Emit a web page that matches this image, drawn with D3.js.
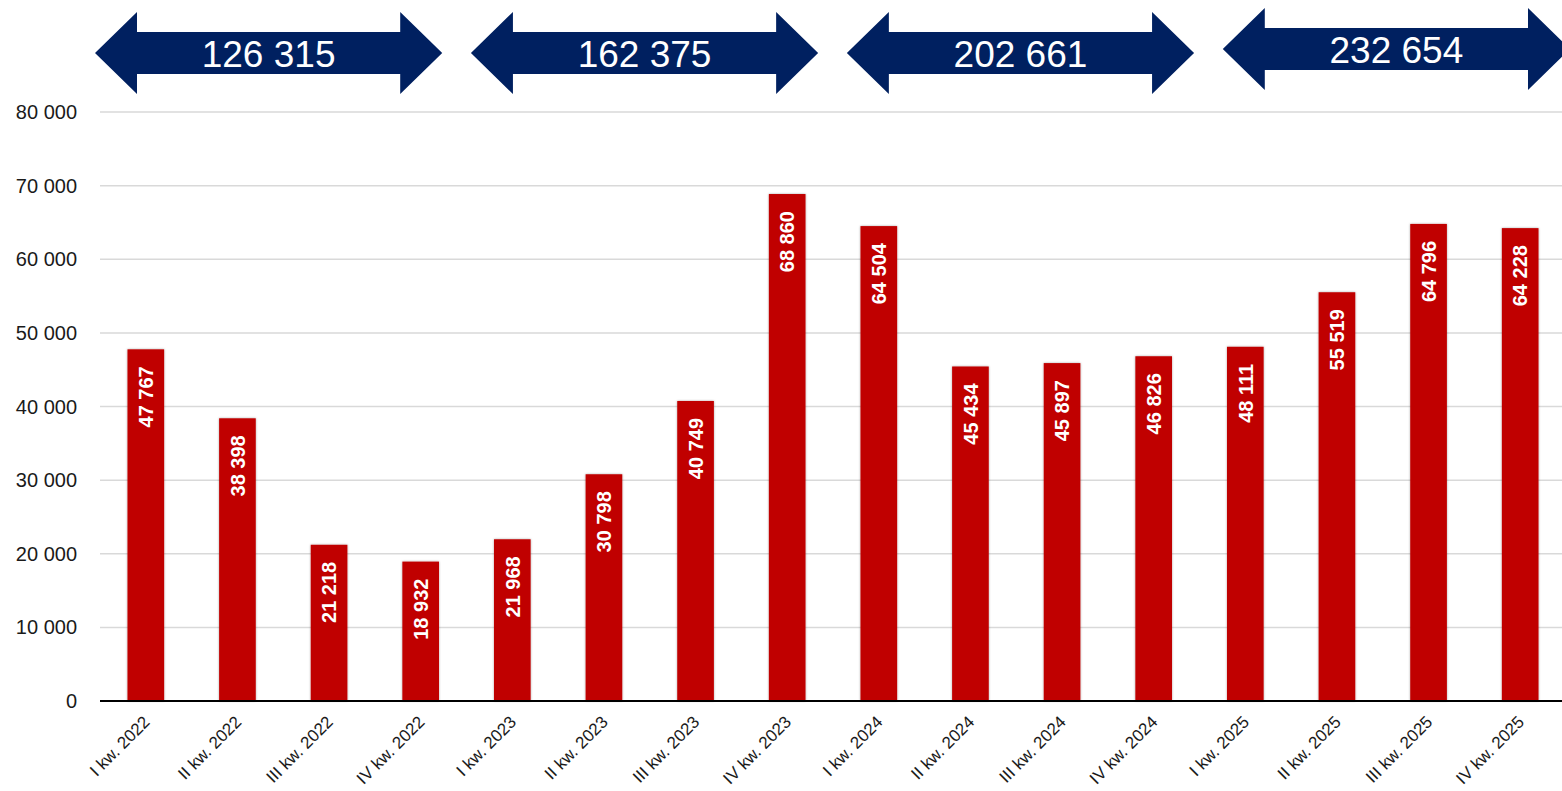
<!DOCTYPE html>
<html>
<head>
<meta charset="utf-8">
<script src="https://cdn.jsdelivr.net/npm/d3@7"></script>
<style>
  body { margin: 0; background: #fff; }
  svg { display: block; font-family: "Liberation Sans", Arial, sans-serif; }
</style>
</head>
<body>
<svg id="chart"></svg>
<script>
const WIDTH = 1562
const HEIGHT = 791

const quarters = [
  "I kw. 2022", "II kw. 2022", "III kw. 2022", "IV kw. 2022",
  "I kw. 2023", "II kw. 2023", "III kw. 2023", "IV kw. 2023",
  "I kw. 2024", "II kw. 2024", "III kw. 2024", "IV kw. 2024",
  "I kw. 2025", "II kw. 2025", "III kw. 2025", "IV kw. 2025"
]
const values = [
  47767, 38398, 21218, 18932,
  21968, 30798, 40749, 68860,
  64504, 45434, 45897, 46826,
  48111, 55519, 64796, 64228
]
const years = ["2022", "2023", "2024", "2025"]
const yearTotals = [126315, 162375, 202661, 232654]
const yTicks = [0, 10000, 20000, 30000, 40000, 50000, 60000, 70000, 80000]

const fmt = v => d3.format(",")(v).replace(/,/g, " ")

let svg = d3.select("#chart")
  .attr("width", WIDTH)
  .attr("height", HEIGHT)

let defs = svg.append("defs")
defs.append("filter")
  .attr("id", "shadow")
  .attr("x", "-20%").attr("y", "-5%")
  .attr("width", "140%").attr("height", "110%")
  .append("feDropShadow")
  .attr("dx", 0).attr("dy", 0)
  .attr("stdDeviation", 1.2)
  .attr("flood-color", "#000")
  .attr("flood-opacity", 0.35)

let x = d3.scaleBand()
  .domain(quarters)
  .range([100, 1566])
  .paddingInner(0.6)
  .paddingOuter(0.3)

let y = d3.scaleLinear()
  .domain([0, 80000])
  .range([701, 112])

// gridlines
svg.append("g")
  .selectAll("line")
  .data(yTicks.filter(t => t > 0))
  .enter()
  .append("line")
  .attr("x1", 100)
  .attr("x2", WIDTH)
  .attr("y1", t => y(t))
  .attr("y2", t => y(t))
  .attr("stroke", "#d9d9d9")
  .attr("stroke-width", 1.5)

// y labels
svg.append("g")
  .selectAll("text")
  .data(yTicks)
  .enter()
  .append("text")
  .attr("x", 77)
  .attr("y", t => y(t))
  .attr("dy", "0.35em")
  .attr("text-anchor", "end")
  .style("font-size", "20px")
  .style("fill", "#1a1a1a")
  .text(t => fmt(t))

// bars
let bars = svg.append("g")
  .selectAll("g")
  .data(quarters)
  .enter()
  .append("g")

bars.append("rect")
  .attr("x", (q) => x(q))
  .attr("width", x.bandwidth())
  .attr("y", (q, i) => y(values[i]))
  .attr("height", (q, i) => y(0) - y(values[i]))
  .attr("fill", "#c00000")
  .attr("filter", "url(#shadow)")

bars.append("text")
  .attr("transform", (q, i) => {
    let cx = x(q) + x.bandwidth() / 2
    return `translate(${cx}, ${y(values[i]) + 17}) rotate(-90)`
  })
  .attr("text-anchor", "end")
  .attr("dy", "0.36em")
  .style("font-size", "20px")
  .style("font-weight", "bold")
  .style("fill", "#fff")
  .text((q, i) => fmt(values[i]))

// baseline
svg.append("line")
  .attr("x1", 100)
  .attr("x2", WIDTH)
  .attr("y1", y(0))
  .attr("y2", y(0))
  .attr("stroke", "#000")
  .attr("stroke-width", 2)

// x labels
svg.append("g")
  .selectAll("text")
  .data(quarters)
  .enter()
  .append("text")
  .attr("transform", q => `translate(${x(q) + x.bandwidth() / 2 + 5}, ${723}) rotate(-45)`)
  .attr("text-anchor", "end")
  .style("font-size", "17px")
  .style("fill", "#1a1a1a")
  .text(q => q)

// year arrows
let ax = d3.scaleBand()
  .domain(years)
  .range([95, 1570])
  .paddingInner(0.0764)

const HEAD = 42
const HALF = 41
const SHAFT = 21

let arrows = svg.append("g")
  .selectAll("g")
  .data(years)
  .enter()
  .append("g")
  .attr("transform", (yr, i) => `translate(${ax(yr)}, ${i === 3 ? 49 : 53})`)

arrows.append("path")
  .attr("d", () => {
    let w = ax.bandwidth()
    return `M0,0 L${HEAD},${-HALF} L${HEAD},${-SHAFT} L${w - HEAD},${-SHAFT} L${w - HEAD},${-HALF}
      L${w},0 L${w - HEAD},${HALF} L${w - HEAD},${SHAFT} L${HEAD},${SHAFT} L${HEAD},${HALF} Z`
  })
  .attr("fill", "#002060")

arrows.append("text")
  .attr("x", ax.bandwidth() / 2)
  .attr("y", 13.5)
  .attr("text-anchor", "middle")
  .style("font-size", "37px")
  .style("fill", "#fff")
  .text((yr, i) => fmt(yearTotals[i]))
</script>
</body>
</html>
